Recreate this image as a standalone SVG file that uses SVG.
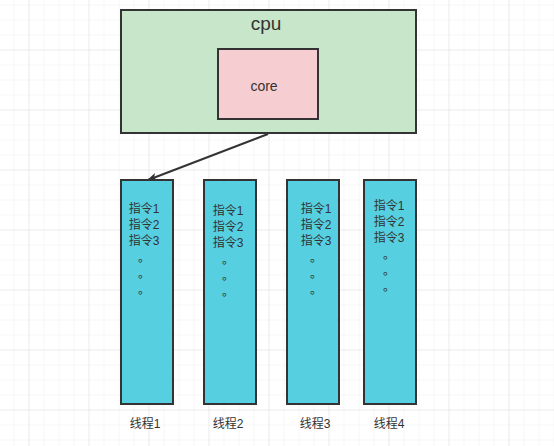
<svg xmlns="http://www.w3.org/2000/svg" width="554" height="446" viewBox="0 0 554 446">
<defs>
<pattern id="minor" x="13.5" y="4.5" width="15" height="15" patternUnits="userSpaceOnUse">
<path d="M0 0H15M0 0V15" fill="none" stroke="#efefef" stroke-width="1"/>
</pattern>
<pattern id="major" x="28.5" y="49.5" width="60" height="60" patternUnits="userSpaceOnUse">
<path d="M0 0H60M0 0V60" fill="none" stroke="#e2e2e2" stroke-width="1"/>
</pattern>
<marker id="arr" markerWidth="10" markerHeight="8" refX="9" refY="4" orient="auto" markerUnits="userSpaceOnUse">
<path d="M0 0L10 4L0 8L2.5 4Z" fill="#333"/>
</marker>
</defs>
<style>
text{font-family:"Liberation Sans","Noto Sans CJK SC",sans-serif;fill:#333;text-anchor:middle;dominant-baseline:central}
.box{stroke:#333;stroke-width:2}
.thread{fill:#56d0e0;stroke:#333;stroke-width:2}
.t{font-size:12px}
</style>
<rect width="554" height="446" fill="#ffffff"/>
<rect width="554" height="446" fill="url(#minor)"/>
<rect width="554" height="446" fill="url(#major)"/>

<g id="cpu">
<rect class="box" x="121" y="10" width="295" height="123" fill="#c8e6c9"/>
<text x="266" y="23" style="font-size:19px">cpu</text>
</g>
<g id="core">
<rect class="box" x="218" y="49" width="100" height="70" fill="#f6cdd1"/>
<text x="264" y="86" style="font-size:14px">core</text>
</g>

<g id="connectors">
<line x1="268" y1="134" x2="148" y2="180" stroke="#333" stroke-width="2" marker-end="url(#arr)"/>
</g>

<g id="thread1">
<rect class="thread" x="121" y="180" width="52" height="224"/>
<text class="t" x="144" y="209">指令1</text>
<text class="t" x="144" y="225">指令2</text>
<text class="t" x="144" y="241">指令3</text>
<text class="t" x="144" y="258">。</text>
<text class="t" x="144" y="274">。</text>
<text class="t" x="144" y="290">。</text>
<text class="t" x="145" y="424">线程1</text>
</g>
<g id="thread2">
<rect class="thread" x="204" y="180" width="52" height="224"/>
<text class="t" x="228" y="211">指令1</text>
<text class="t" x="228" y="227">指令2</text>
<text class="t" x="228" y="243">指令3</text>
<text class="t" x="228" y="260">。</text>
<text class="t" x="228" y="276">。</text>
<text class="t" x="228" y="292">。</text>
<text class="t" x="228" y="424">线程2</text>
</g>
<g id="thread3">
<rect class="thread" x="287" y="180" width="52" height="224"/>
<text class="t" x="316" y="209">指令1</text>
<text class="t" x="316" y="225">指令2</text>
<text class="t" x="316" y="241">指令3</text>
<text class="t" x="316" y="258">。</text>
<text class="t" x="316" y="274">。</text>
<text class="t" x="316" y="290">。</text>
<text class="t" x="315" y="424">线程3</text>
</g>
<g id="thread4">
<rect class="thread" x="364" y="180" width="52" height="224"/>
<text class="t" x="389" y="206">指令1</text>
<text class="t" x="389" y="222">指令2</text>
<text class="t" x="389" y="238">指令3</text>
<text class="t" x="389" y="255">。</text>
<text class="t" x="389" y="271">。</text>
<text class="t" x="389" y="287">。</text>
<text class="t" x="389" y="424">线程4</text>
</g>
</svg>
